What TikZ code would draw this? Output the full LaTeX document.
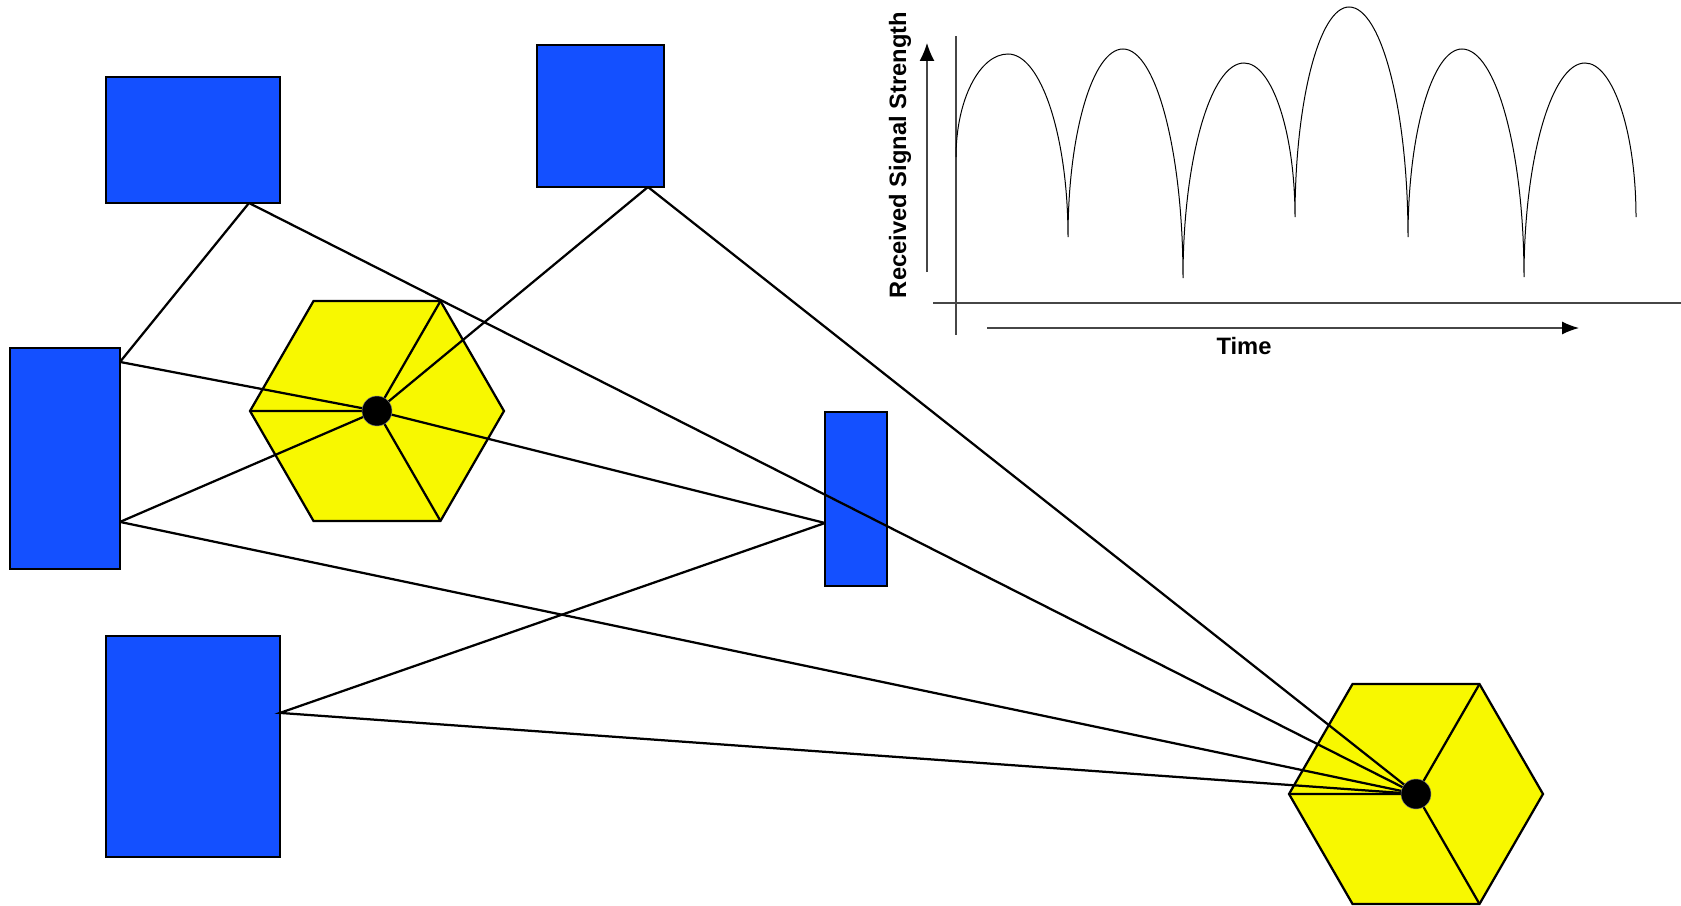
\documentclass[tikz,border=0pt]{standalone}
\usepackage{fontspec}
\setmainfont{Liberation Sans}
\usetikzlibrary{calc,shapes.geometric,arrows.meta}

\definecolor{boxblue}{RGB}{20,80,255}
\definecolor{cellyellow}{RGB}{248,248,0}

\tikzset{
  building/.style={rectangle, draw=black, line width=0.045cm, fill=boxblue, inner sep=0pt, outer sep=0pt},
  cell/.style={regular polygon, regular polygon sides=6, draw=black, line width=0.045cm, fill=cellyellow,
    minimum size=5.08cm, inner sep=0pt, outer sep=0pt},
  antenna/.style={circle, fill=black, draw=gray, line width=0.01cm, minimum size=0.6cm, inner sep=0pt},
  ray/.style={draw=black, line width=0.045cm},
  axis/.style={draw=gray!55!black, line width=0.025cm},
  signal/.style={draw=black, line width=0.02cm},
  axislabel/.style={font=\fontsize{13.5}{15}\selectfont\bfseries, inner sep=0pt}
}

\begin{document}
\begin{tikzpicture}[x=0.02cm, y=-0.02cm]
  \useasboundingbox (0,0) rectangle (1681,906);

  % Buildings
  \node[building, minimum width=3.48cm, minimum height=2.52cm] (bldTL) at (193,140) {};
  \node[building, minimum width=2.54cm, minimum height=2.84cm] (bldTM) at (600.5,116) {};
  \node[building, minimum width=2.2cm, minimum height=4.42cm] (bldL) at (65,458.5) {};
  \node[building, minimum width=3.48cm, minimum height=4.42cm] (bldBL) at (193,746.5) {};
  \node[building, minimum width=1.24cm, minimum height=3.48cm] (bldR) at (856,499) {};

  % Cells
  \node[cell] (cellA) at (377,411) {};
  \node[cell] (cellB) at (1416,794) {};
  \foreach \c in {cellA,cellB}
    \draw[ray] (\c.60) -- (\c.center) -- (\c.300) (\c.center) -- (\c.180);

  % Reflection points on the buildings
  \coordinate (tlFoot) at ($(bldTL.south west)!0.822!(bldTL.south east)$);
  \coordinate (tmFoot) at ($(bldTM.south west)!0.874!(bldTM.south east)$);
  \coordinate (lUp) at ($(bldL.north east)!0.063!(bldL.south east)$);
  \coordinate (lLow) at ($(bldL.north east)!0.787!(bldL.south east)$);
  \coordinate (rSide) at ($(bldR.north west)!0.638!(bldR.south west)$);
  \coordinate (blSide) at ($(bldBL.north east)!0.348!(bldBL.south east)$);

  % Paths
  \draw[ray] (tlFoot) -- (lUp);
  \draw[ray] (tlFoot) -- (cellB.center);
  \draw[ray] (tmFoot) -- (cellA.center);
  \draw[ray] (tmFoot) -- (cellB.center);
  \draw[ray] (lUp) -- (cellA.center) -- (rSide);
  \draw[ray] (lLow) -- (cellA.center);
  \draw[ray] (lLow) -- (cellB.center);
  \draw[ray] (rSide) -- (blSide) -- (cellB.center);

  % Antennas
  \node[antenna] (antA) at (cellA.center) {};
  \node[antenna] (antB) at (cellB.center) {};

  % Fading plot
  \draw[axis] (956,36) -- (956,335);
  \draw[axis] (933,303) -- (1681,303);
  \draw[axis, -{Latex[length=0.36cm,width=0.3cm,color=black]}] (927,272) -- (927,43);
  \draw[axis, -{Latex[length=0.34cm,width=0.26cm,color=black]}] (987,328) -- (1579,328);
  \node[axislabel, rotate=90] (rssLabel) at (900,155) {Received Signal Strength};
  \node[axislabel] (timeLabel) at (1244,346) {Time};

  \draw[signal] (956,157) .. controls (956,100.3) and (979.4,54) .. (1008,54)
    .. controls (1041,54) and (1068,136.3) .. (1068,237)
    .. controls (1068,133.6) and (1092.8,49) .. (1123,49)
    .. controls (1156,49) and (1183,152) .. (1183,278)
    .. controls (1183,159.8) and (1210.5,63) .. (1244,63)
    .. controls (1272,63) and (1295,132.3) .. (1295,217)
    .. controls (1295,101.5) and (1319.3,7) .. (1349,7)
    .. controls (1381.5,7) and (1408,110.5) .. (1408,237)
    .. controls (1408,133.6) and (1432.3,49) .. (1462,49)
    .. controls (1496.1,49) and (1524,151.6) .. (1524,277)
    .. controls (1524,159.3) and (1551.5,63) .. (1585,63)
    .. controls (1613,63) and (1636,132.3) .. (1636,217);
\end{tikzpicture}
\end{document}
